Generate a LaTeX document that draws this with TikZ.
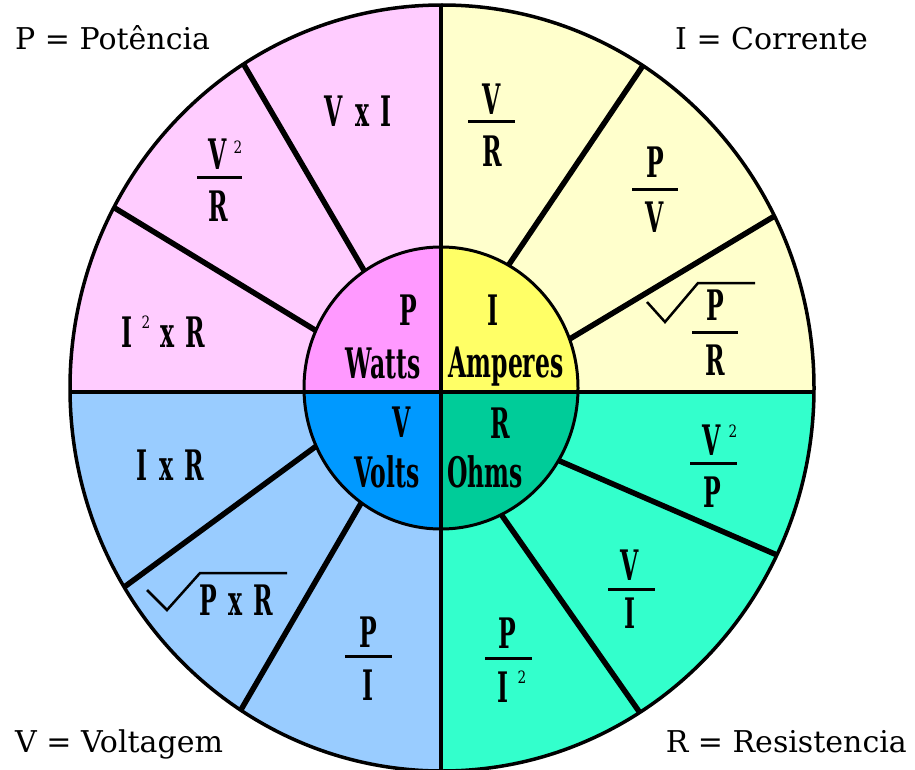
\documentclass[tikz,border=0pt]{standalone}
\usepackage{fontspec}
\setmainfont{DejaVu Serif}
\newfontfamily\slab[FakeStretch=0.56]{DejaVu Serif Bold}
\newfontfamily\slabthin[FakeStretch=0.8]{DejaVu Serif}
\usetikzlibrary{calc}
\definecolor{pinkL}{HTML}{FFCCFF}
\definecolor{pinkD}{HTML}{FF99FF}
\definecolor{yellowL}{HTML}{FFFFCC}
\definecolor{yellowD}{HTML}{FFFF66}
\definecolor{blueL}{HTML}{99CCFF}
\definecolor{blueD}{HTML}{0099FF}
\definecolor{greenL}{HTML}{33FFCC}
\definecolor{greenD}{HTML}{00CC99}
\begin{document}
\begin{tikzpicture}[x=1pt,y=-1pt,
  lbl/.style={inner sep=0pt,font=\fontsize{30}{30}\selectfont},
  frm/.style={inner sep=0pt,anchor=base,font=\slab\fontsize{42}{42}\selectfont},
  supn/.style={inner sep=0pt,anchor=base,font=\slabthin\fontsize{17}{17}\selectfont},
  fbar/.style={line width=3pt},
  spoke/.style={line width=5.5pt},
  axis/.style={line width=4pt},
  rad/.style={line width=2.5pt,line join=miter}]
\useasboundingbox (0,0) rectangle (915,770);
\fill[white] (0,0) rectangle (915,770);
% spoke end points
\coordinate (pa1) at (362,267); \coordinate (pb1) at (247,70);
\coordinate (pa2) at (315,330); \coordinate (pb2) at (118,210);
\coordinate (ya1) at (512,260); \coordinate (yb1) at (640,70);
\coordinate (ya2) at (573,337); \coordinate (yb2) at (773,217);
\coordinate (ba1) at (315,447); \coordinate (bb1) at (127,585);
\coordinate (ba2) at (360,505); \coordinate (bb2) at (242,708);
\coordinate (ga1) at (562,462); \coordinate (gb1) at (777,555);
\coordinate (ga2) at (503,517); \coordinate (gb2) at (638,710);
\coordinate (C) at (441,392);
\begin{scope}
  \clip (442,388) ellipse [x radius=372, y radius=383];
  \fill[pinkL] (0,0) rectangle (C);
  \fill[yellowL] (915,0) rectangle (C);
  \fill[blueL] (0,780) rectangle (C);
  \fill[greenL] (915,780) rectangle (C);
  \foreach \q in {p,y,b,g}{
    \foreach \k in {1,2}{
      \draw[spoke] ($(\q a\k)!-0.3!(\q b\k)$) -- ($(\q b\k)!-0.2!(\q a\k)$);
    }
  }
  \begin{scope}
    \clip (441,388) ellipse [x radius=137, y radius=141];
    \fill[pinkD] (0,0) rectangle (C);
    \fill[yellowD] (915,0) rectangle (C);
    \fill[blueD] (0,780) rectangle (C);
    \fill[greenD] (915,780) rectangle (C);
  \end{scope}
  \draw[axis] (441,0) -- (441,780);
  \draw[axis] (0,392) -- (915,392);
\end{scope}
\draw[line width=3.5pt] (442,388) ellipse [x radius=372, y radius=383];
\draw[line width=3pt] (441,388) ellipse [x radius=137, y radius=141];

% corner labels
\node[lbl,anchor=base west] (lp) at (15,50) {P = Potência};
\node[lbl,anchor=base east] (li) at (868,50) {I = Corrente};
\node[lbl,anchor=base west] (lv) at (15,752) {V = Voltagem};
\node[lbl,anchor=base east] (lr) at (907,752) {R = Resistencia};

% inner labels
\node[frm] (iP) at (408,325) {P};
\node[frm] (iW) at (383,378) {Watts};
\node[frm] (iI) at (493,325) {I};
\node[frm] (iA) at (506,377) {Amperes};
\node[frm] (iV) at (402,437) {V};
\node[frm] (iVo) at (387,487) {Volts};
\node[frm] (iR) at (500,438) {R};
\node[frm] (iO) at (485,487) {Ohms};

% pink sectors
\node[frm] (p1) at (358,127) {V\hspace{12pt}x\hspace{11pt}I};
\node[frm] (p2n) at (218,170) {V};
\node[supn] (p2s) at (238,154) {2};
\draw[fbar] (197,178) -- (242,178);
\node[frm] (p2d) at (218,222) {R};
\node[frm] (p3a) at (127,347) {I};
\node[supn] (p3s) at (146,328) {2};
\node[frm,anchor=base west] (p3b) at (160,347) {x\hspace{11pt}R};

% yellow sectors
\node[frm] (y1n) at (492,115) {V};
\draw[fbar] (468,122) -- (515,122);
\node[frm] (y1d) at (492,167) {R};
\node[frm] (y2n) at (655,178) {P};
\draw[fbar] (632,190) -- (678,190);
\node[frm] (y2d) at (655,232) {V};
\node[frm] (y3n) at (715,320) {P};
\draw[fbar] (692,332) -- (738,332);
\node[frm] (y3d) at (715,375) {R};
\draw[rad] (647,302) -- (665,322) -- (698,283) -- (755,283);

% blue sectors
\node[frm] (b1) at (170,480) {I\hspace{12pt}x\hspace{11pt}R};
\node[frm,anchor=base west] (b2) at (199,615) {P\hspace{12pt}x\hspace{11pt}R};
\draw[rad] (147,590) -- (167,610) -- (200,573) -- (287,573);
\node[frm] (b3n) at (368,647) {P};
\draw[fbar] (345,656) -- (392,656);
\node[frm] (b3d) at (368,700) {I};

% green sectors
\node[frm] (g1n) at (712,455) {V};
\node[supn] (g1s) at (733,437) {2};
\draw[fbar] (690,463) -- (737,463);
\node[frm] (g1d) at (712,507) {P};
\node[frm] (g2n) at (630,580) {V};
\draw[fbar] (608,589) -- (655,589);
\node[frm] (g2d) at (630,628) {I};
\node[frm] (g3n) at (507,648) {P};
\draw[fbar] (485,658) -- (532,658);
\node[frm] (g3d) at (503,702) {I};
\node[supn] (g3s) at (522,683) {2};
\end{tikzpicture}
\end{document}
